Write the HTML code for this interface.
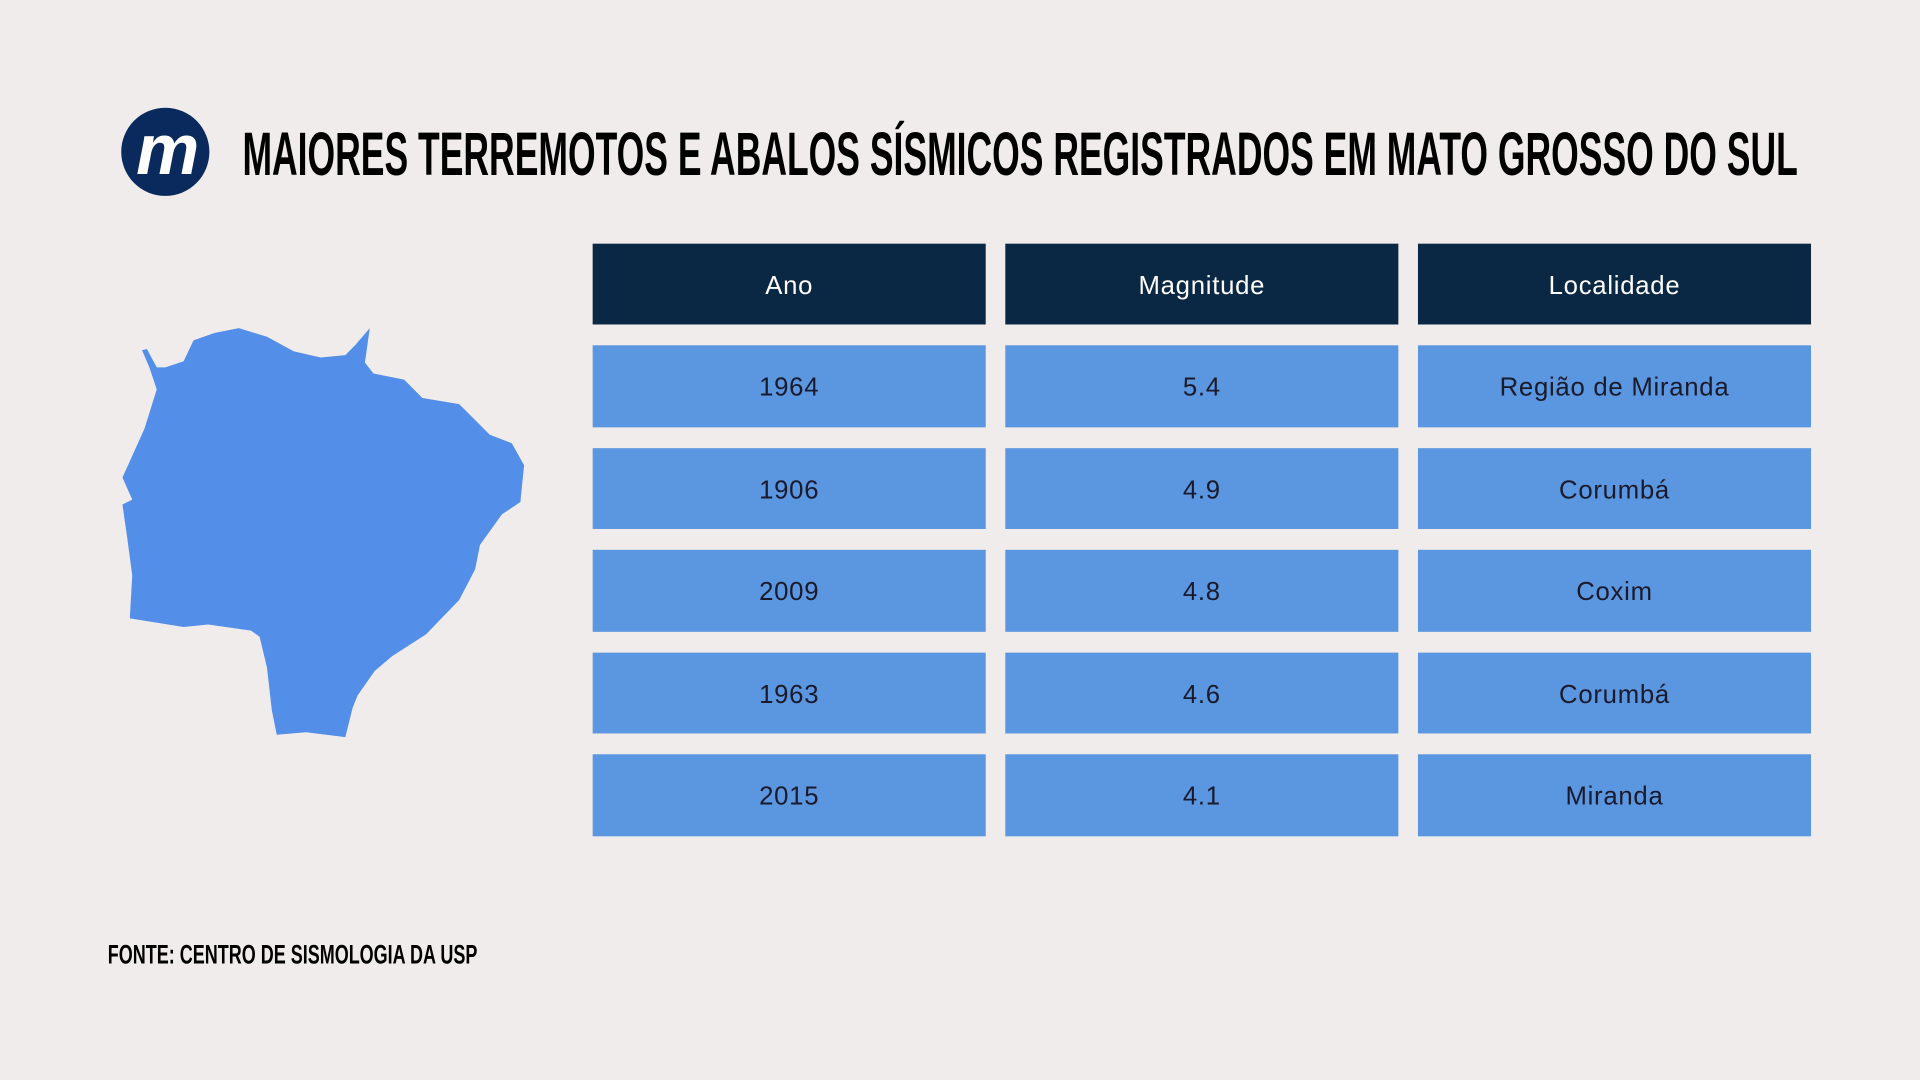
<!DOCTYPE html>
<html><head><meta charset="utf-8"><style>
html,body{margin:0;padding:0;background:#f0ecec;overflow:hidden}
#w{position:absolute;left:0;top:0;width:1568px;height:882px;transform:scale(1.2244898);transform-origin:0 0;background:#f0ecec;font-family:"Liberation Sans",sans-serif}
.c{position:absolute;width:321px;display:flex;align-items:center;justify-content:center;font-size:21px;letter-spacing:0.6px;padding-top:3px;box-sizing:border-box;color:#1a1a2a;background:#5b96e0}
.h{background:#0a2744;color:#fff}
.t{position:absolute;white-space:nowrap;font-weight:bold;color:#000;transform-origin:0 0}
</style></head><body><div id="w">
<div style="position:absolute;left:99px;top:88px;width:72px;height:72px;border-radius:50%;background:#0a2a5e;"></div>
<div style="position:absolute;left:106px;top:90px;width:60px;text-align:center;font-size:58px;font-weight:bold;font-style:italic;color:#fff;line-height:66px;letter-spacing:-2px">m</div>
<div class="t" style="left:198px;top:101px;font-size:50px;line-height:50px;transform:scaleX(0.58)">MAIORES TERREMOTOS E ABALOS SÍSMICOS REGISTRADOS EM MATO GROSSO DO SUL</div>
<div class="t" style="left:88px;top:769px;font-size:22px;line-height:22px;transform:scaleX(0.668)">FONTE: CENTRO DE SISMOLOGIA DA USP</div>
<svg style="position:absolute;left:0;top:0" width="600" height="700"><polygon fill="#538fe8" points="116,286 122,300 128,318 118,350 100,390 108,408 100,412 104,440 108,470 106,505 150,512 170,510 205,515 212,520 218,545 222,580 226,600 250,598 282,602 288,578 292,568 306,548 320,536 348,518 375,490 388,465 392,445 410,420 425,410 428,380 418,362 400,355 375,330 345,325 330,310 305,305 298,296 302,268 290,282 282,290 262,292 240,287 218,275 195,268 175,272 158,278 150,295 135,300 128,300 120,285"/></svg>
<div class="c h" style="left:484px;top:199px;height:66px">Ano</div>
<div class="c h" style="left:821px;top:199px;height:66px">Magnitude</div>
<div class="c h" style="left:1158px;top:199px;height:66px">Localidade</div>
<div class="c" style="left:484px;top:282px;height:67px">1964</div>
<div class="c" style="left:821px;top:282px;height:67px">5.4</div>
<div class="c" style="left:1158px;top:282px;height:67px">Região de Miranda</div>
<div class="c" style="left:484px;top:366px;height:66px">1906</div>
<div class="c" style="left:821px;top:366px;height:66px">4.9</div>
<div class="c" style="left:1158px;top:366px;height:66px">Corumbá</div>
<div class="c" style="left:484px;top:449px;height:67px">2009</div>
<div class="c" style="left:821px;top:449px;height:67px">4.8</div>
<div class="c" style="left:1158px;top:449px;height:67px">Coxim</div>
<div class="c" style="left:484px;top:533px;height:66px">1963</div>
<div class="c" style="left:821px;top:533px;height:66px">4.6</div>
<div class="c" style="left:1158px;top:533px;height:66px">Corumbá</div>
<div class="c" style="left:484px;top:616px;height:67px">2015</div>
<div class="c" style="left:821px;top:616px;height:67px">4.1</div>
<div class="c" style="left:1158px;top:616px;height:67px">Miranda</div>
</div></body></html>
